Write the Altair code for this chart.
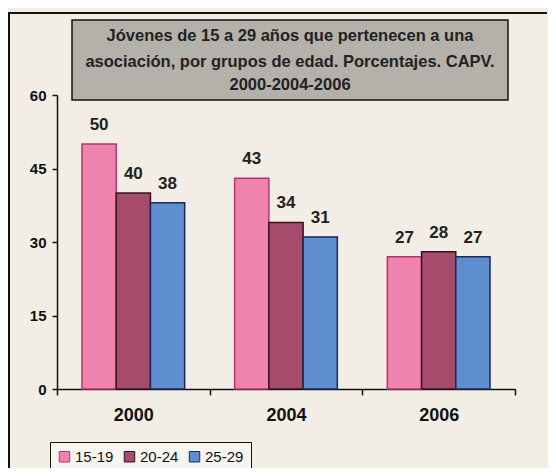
import altair as alt
import pandas as pd

years = ["2000", "2004", "2006"]
groups = ["15-19", "20-24", "25-29"]
v_15_19 = [50, 43, 27]
v_20_24 = [40, 34, 28]
v_25_29 = [38, 31, 27]
colors = ["#ee84ad", "#a54c6c", "#5f8ed0"]
strokes = ["#b8336a", "#3a1020", "#1d2a55"]
title_lines = [
    "Jóvenes de 15 a 29 años que pertenecen a una",
    "asociación, por grupos de edad. Porcentajes. CAPV.",
    "2000-2004-2006",
]
title_ys = [-59, -33, -10]

rows = []
for g, vals in zip(groups, [v_15_19, v_20_24, v_25_29]):
    for y, v in zip(years, vals):
        rows.append({"year": y, "group": g, "value": v})
df = pd.DataFrame(rows)

W, H = 458, 294
FONT = "Liberation Sans"

x = alt.X("year:N", sort=years,
          scale=alt.Scale(paddingInner=0, paddingOuter=0),
          axis=alt.Axis(title=None, labelAngle=0, labelFont=FONT, labelFontSize=18,
                        labelFontWeight="bold", labelColor="#111", labelPadding=11,
                        tickBand="extent", tickSize=6, tickColor="#111",
                        domainColor="#111", domainWidth=1.5, tickWidth=1.5))
xo = alt.XOffset("group:N", sort=groups,
                 scale=alt.Scale(paddingInner=0, paddingOuter=0.73))
y = alt.Y("value:Q", scale=alt.Scale(domain=[0, 60]),
          axis=alt.Axis(title=None, values=[0, 15, 30, 45, 60], grid=False,
                        labelFont=FONT, labelFontSize=15, labelFontWeight="bold",
                        labelColor="#111", labelPadding=6, tickSize=5,
                        tickColor="#111", domainColor="#111", domainWidth=1.5,
                        tickWidth=1.5))

bars = alt.Chart(df).mark_bar(strokeWidth=1.5).encode(
    x=x, xOffset=xo, y=y,
    color=alt.Color("group:N", sort=groups,
                    scale=alt.Scale(domain=groups, range=colors),
                    legend=alt.Legend(title=None, orient="none", legendX=-7, legendY=347,
                                      direction="horizontal", symbolType="square",
                                      symbolSize=110, symbolStrokeWidth=1,
                                      symbolStrokeColor="#222",
                                      labelFont=FONT, labelFontSize=15, labelColor="#111",
                                      fillColor="#f7f5ef", strokeColor="#111",
                                      padding=7, columnPadding=8, labelOffset=3)),
    stroke=alt.Stroke("group:N", sort=groups,
                      scale=alt.Scale(domain=groups, range=strokes), legend=None),
)

labels = alt.Chart(df).mark_text(dy=-10, baseline="bottom", font=FONT, fontSize=17,
                                 fontWeight="bold", color="#222").encode(
    x=x, xOffset=xo, y=y, text="value:Q")

one = pd.DataFrame({"a": [0]})
frame_top = alt.Chart(one).mark_rule(color="#111", strokeWidth=2).encode(
    x=alt.value(-49), x2=alt.value(490), y=alt.value(-82))
frame_left = alt.Chart(one).mark_rule(color="#111", strokeWidth=2).encode(
    x=alt.value(-48), y=alt.value(-82), y2=alt.value(380))

title_box = alt.Chart(one).mark_rect(
    fill="#b4b1ab", stroke="#111", strokeWidth=1.5).encode(
    x=alt.value(15), x2=alt.value(451), y=alt.value(-75), y2=alt.value(5))

title_layers = [
    alt.Chart(pd.DataFrame({"t": [t]})).mark_text(
        font=FONT, fontSize=16.5, fontWeight="bold", color="#222", baseline="middle").encode(
        x=alt.value(233), y=alt.value(ty), text="t:N")
    for t, ty in zip(title_lines, title_ys)
]

chart = alt.layer(frame_top, frame_left, title_box, *title_layers, bars, labels).properties(
    width=W, height=H,
    autosize=alt.AutoSizeParams(type="none"),
    padding={"left": 49, "top": 87, "right": 33, "bottom": 79},
    background="#f2eee5",
).configure_view(stroke=None)

chart.save("out.html", embed_options={"renderer": "svg", "actions": False})
